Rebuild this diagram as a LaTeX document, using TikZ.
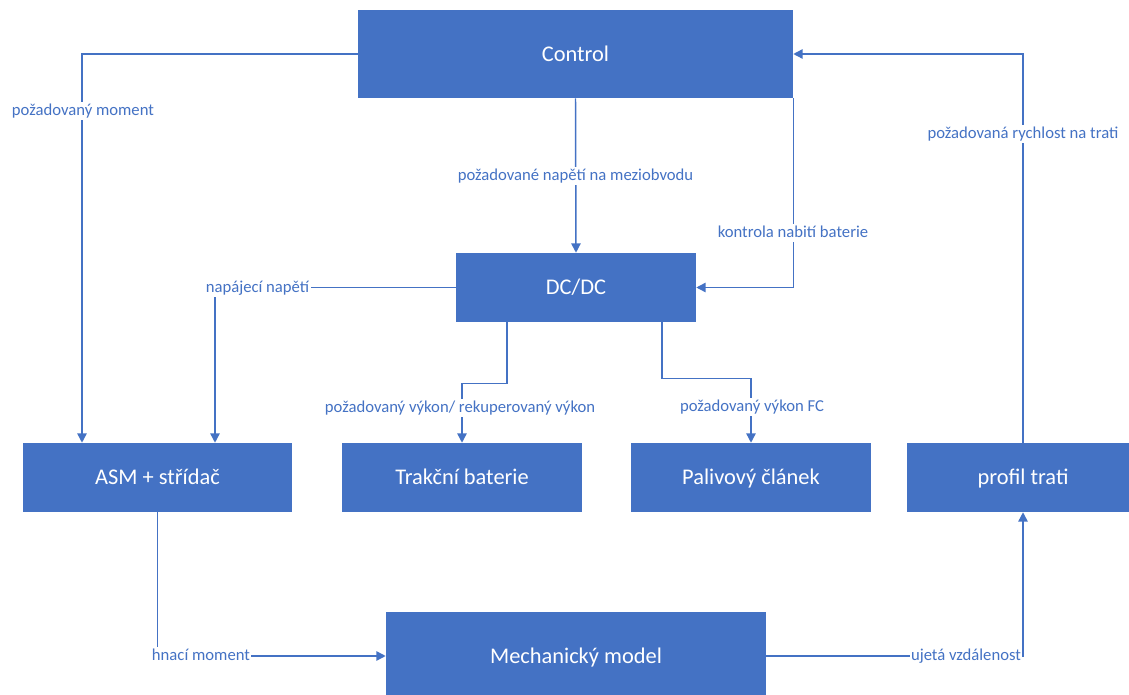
\documentclass[tikz,border=0pt]{standalone}
\usepackage{fontspec}
\setmainfont{Carlito}
\usetikzlibrary{arrows.meta,calc}
\definecolor{boxblue}{HTML}{4472C4}
\tikzset{
  block/.style 2 args={fill=boxblue, draw=none, text=white, font=\fontsize{16.8}{20}\selectfont,
    minimum width=#1*0.75pt, minimum height=#2*0.75pt, inner sep=0pt,
    text height=12pt, text depth=1.4pt},
  conn/.style={draw=boxblue, line width=1.1pt, -{Triangle[length=7pt,width=7pt]}},
  lbl/.style={fill=white, text=boxblue, inner sep=1pt, font=\fontsize{12.5}{15}\selectfont,
    text height=9.6pt, text depth=2.4pt}
}
\begin{document}
\begin{tikzpicture}[x=0.75pt, y=-0.75pt]
  \useasboundingbox (0,0) rectangle (1129,695);
  \clip (0,0) rectangle (1129,695);

  % blocks
  \node[block={435}{88}] (ctrl) at (575.5,54) {Control};
  \node[block={240}{69}] (dcdc) at (576,287.5) {DC/DC};
  \node[block={269}{69}] (asm)  at (157.5,477.5) {ASM + střídač};
  \node[block={240}{69}] (bat)  at (462,477.5) {Trakční baterie};
  \node[block={240}{69}] (fc)   at (751,477.5) {Palivový článek};
  \node[block={232}{69}] (prof) at (1023,477.5) {profil trati};
  \node[block={380}{88}] (mech) at (576,656) {Mechanický model};

  % Control -> ASM
  \draw[conn] (ctrl.west) -| ($(asm.north)+(-75.5,0)$);
  \node[lbl] (l1) at (83,111) {požadovaný moment};

  % Control -> DC/DC
  \draw[conn] (ctrl.south) -- (dcdc.north);
  \node[lbl] (l2) at (575.5,176) {požadované napětí na meziobvodu};

  % Control -> DC/DC (battery charge)
  \draw[conn] (ctrl.south east) |- (dcdc.east);
  \node[lbl] (l3) at (793,233) {kontrola nabití baterie};

  % DC/DC -> ASM
  \draw[conn] (dcdc.west) -| ($(asm.north)+(57.5,0)$);
  \node[lbl] (l4) at (257.5,288) {napájecí napětí};

  % DC/DC -> battery
  \draw[conn] ($(dcdc.south)+(-69,0)$) -- ++(0,61) -| (bat.north);
  \node[lbl] (l5) at (460,408) {požadovaný výkon/ rekuperovaný výkon};

  % DC/DC -> fuel cell
  \draw[conn] ($(dcdc.south)+(86,0)$) -- ++(0,56) -| (fc.north);
  \node[lbl] (l6) at (752,407) {požadovaný výkon FC};

  % ASM -> mechanical model
  \draw[conn] (asm.south) |- (mech.west);
  \node[lbl] (l7) at (201,656) {hnací moment};

  % mechanical model -> track profile
  \draw[conn] (mech.east) -| (prof.south);
  \node[lbl] (l8) at (966,656) {ujetá vzdálenost};

  % track profile -> Control
  \draw[conn] (prof.north) |- (ctrl.east);
  \node[lbl] (l9) at (1023,134) {požadovaná rychlost na trati};
\end{tikzpicture}
\end{document}
